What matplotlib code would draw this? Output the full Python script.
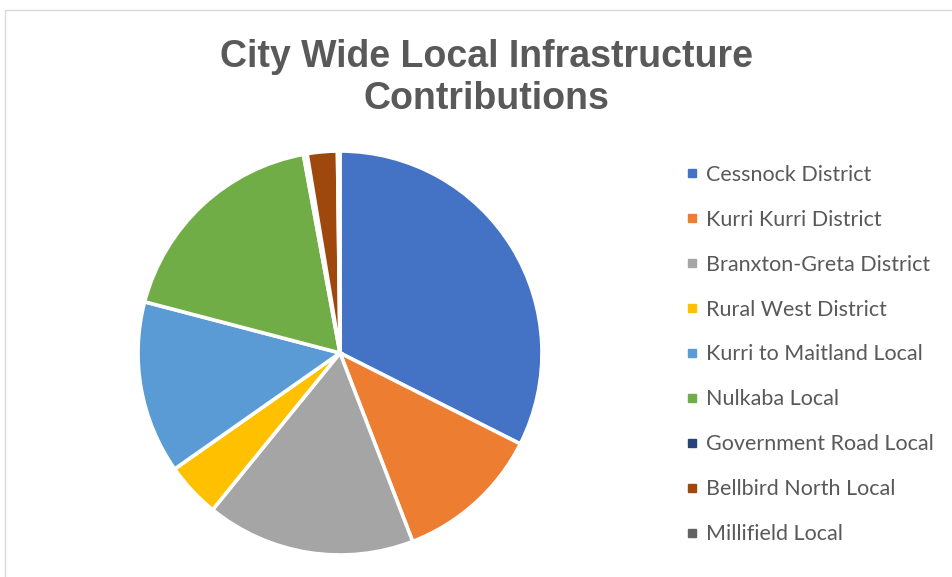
import matplotlib
matplotlib.use("Agg")
import matplotlib.pyplot as plt
from matplotlib.lines import Line2D
from matplotlib.patches import Rectangle

labels = ["Cessnock District", "Kurri Kurri District", "Branxton-Greta District",
          "Rural West District", "Kurri to Maitland Local", "Nulkaba Local",
          "Government Road Local", "Bellbird North Local", "Millifield Local"]
shares = [32.4, 11.7, 16.7, 4.4, 13.8, 18.0, 0.3, 2.4, 0.2]
colours = ["#4472C4", "#ED7D31", "#A5A5A5", "#FFC000", "#5B9BD5",
           "#70AD47", "#264478", "#9E480E", "#636363"]

W, H = 953, 577
fig = plt.figure(figsize=(W / 100, H / 100), dpi=100)
fig.patches.append(Rectangle((5 / W, -0.1), 2, 1 - 10 / H + 0.1, transform=fig.transFigure,
                             fill=False, edgecolor="#D9D9D9", linewidth=1))

# pie box in pixel terms
cx, cy, r = 340, 353, 204
ax = fig.add_axes([(cx - r) / W, (H - cy - r) / H, 2 * r / W, 2 * r / H])
ax.pie(shares, colors=colours, startangle=90, counterclock=False, radius=1,
       wedgeprops=dict(edgecolor="white", linewidth=2.6))
ax.set_xlim(-1.01, 1.01)
ax.set_ylim(-1.01, 1.01)
ax.set_aspect("equal")
ax.axis("off")

fig.text(486 / W, 1 - 78 / H, "City Wide Local Infrastructure\nContributions",
         ha="center", va="center", fontsize=27, fontweight="bold", color="#595959",
         family="Liberation Sans", linespacing=1.2)

handles = [Line2D([], [], marker="s", linestyle="none", markersize=6,
                  markerfacecolor=c, markeredgecolor=c) for c in colours]
fig.legend(handles, labels, loc="upper left", bbox_to_anchor=(678 / W, 1 - 156 / H),
           frameon=False, prop=dict(family="Lato", size=15.5), labelcolor="#595959",
           handlelength=0.5, handletextpad=0.4, labelspacing=1.16, borderaxespad=0)

fig.savefig("out.png", dpi=100)
